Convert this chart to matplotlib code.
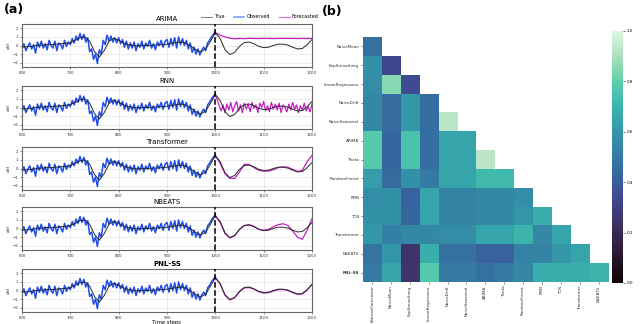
import numpy as np
import matplotlib
matplotlib.use("Agg")
import matplotlib.pyplot as plt
import seaborn as sns

# ---------------- data: time series ----------------
t_true = list(range(600, 1201, 10))
y_true = [-0.2, -0.15, -0.1, 0.0, 0.05, 0.1, 0.1, 0.15, 0.2, 0.25,
          0.35, 0.6, 0.9, 1.0, 0.5, -0.7, -1.35, -0.6, 0.5, 0.85,
          0.6, 0.3, 0.1, 0.0, -0.05, 0.0, 0.0, 0.05, 0.05, 0.1,
          0.15, 0.25, 0.35, 0.4, 0.25, -0.1, -0.5, -0.75, -0.4, 0.5,
          1.5, 0.8, -0.5, -1.05, -0.8, -0.1, 0.35, 0.4, 0.2, -0.1,
          -0.25, -0.2, 0.0, 0.15, 0.15, 0.05, -0.2, -0.4, -0.35, 0.1,
          0.7]

t_obs = list(range(600, 1001, 4))
y_obs = [-0.3, 0.2, -0.6, -0.1, 0.3, -0.4, 0.1, -0.9, 0.4, -0.2,
         0.5, -0.3, 0.2, -0.5, 0.6, 0.0, -0.3, 0.5, -0.6, 0.3,
         0.1, -0.4, 0.6, -0.1, 0.4,
         0.1, 0.8, 0.3, 1.1, 0.6, 1.4, 0.7, 1.3, 0.4, 0.9,
         -0.7, -0.4, -1.6, -1.0, -2.1, -0.5, -1.0, 0.6, 0.1, 1.2,
         0.5, 1.1, 0.4, 0.9, 0.3,
         0.9, 0.2, 0.7, -0.2, 0.5, -0.4, 0.3, -0.3, 0.4, -0.6,
         0.2, -0.2, 0.5, -0.4, 0.3, -0.1, 0.6, -0.3, 0.2, -0.5,
         0.4, 0.0, 0.6, -0.2, 0.5,
         0.7, -0.2, 0.8, 0.0, 0.9, -0.3, 1.0, 0.1, 0.8, 0.0,
         0.6, -0.4, 0.3, -0.8, -0.2, -1.0, -0.4, -1.1, -0.5, -0.2,
         -0.6, 0.3, 0.6, 1.0, 1.3,
         1.6]

t_fc = list(range(1000, 1201, 10))
t_fc_rnn = list(range(1000, 1201, 4))

fc_arima = [1.5, 1.2, 1.0, 0.85, 0.78, 0.82, 0.8, 0.83, 0.82, 0.81,
            0.83, 0.82, 0.81, 0.82, 0.83, 0.82, 0.82, 0.81, 0.82, 0.82, 0.82]
fc_rnn = [1.5, 0.9, 0.2, -0.4, 0.3, -0.6, 0.4, -0.3, 0.6, -0.5,
          0.2, 0.7, -0.4, 0.3, -0.6, 0.5, -0.2, 0.4, -0.5, 0.6,
          -0.1, 0.3, -0.6, 0.5, 0.0, 0.7, -0.4, 0.2, -0.5, 0.6,
          -0.2, 0.4, -0.3, 0.5, -0.6, 0.3, 0.0, -0.5, 0.4, -0.3,
          0.6, -0.2, 0.3, -0.6, 0.2, -0.3, 0.5, -0.4, 0.1, -0.5, 0.4]
fc_transformer = [1.5, 0.6, -0.6, -1.15, -1.15, -0.4, 0.5, 0.45, 0.1, -0.2,
                  -0.3, -0.3, -0.15, 0.1, 0.2, 0.15, -0.1, -0.35, -0.2, 0.8, 1.5]
fc_nbeats = [1.5, 0.7, -0.6, -1.1, -0.85, -0.1, 0.35, 0.45, 0.25, -0.1,
             -0.2, -0.1, 0.2, 0.45, 0.55, 0.35, -0.3, -1.0, -1.25, -0.2, 1.15]
fc_pnlss = [1.5, 0.75, -0.55, -1.1, -0.85, -0.15, 0.3, 0.35, 0.15, -0.15,
            -0.3, -0.25, -0.05, 0.1, 0.12, 0.0, -0.25, -0.45, -0.4, 0.05, 0.7]

panel_titles = ["ARIMA", "RNN", "Transformer", "NBEATS", "PNL-SS"]
panel_fc = [(t_fc, fc_arima), (t_fc_rnn, fc_rnn), (t_fc, fc_transformer),
            (t_fc, fc_nbeats), (t_fc, fc_pnlss)]

# ---------------- data: similarity heatmap (lower triangle) ----------------
row_labels = ["NaiveMean", "ExpSmoothing", "LinearRegression", "NaiveDrift",
              "NaiveSeasonal", "ARIMA", "Theta", "RandomForest", "RNN", "TCN",
              "Transformer", "NBEATS", "PNL-SS"]
col_labels = ["KalmanForecaster", "NaiveMean", "ExpSmoothing", "LinearRegression",
              "NaiveDrift", "NaiveSeasonal", "ARIMA", "Theta", "RandomForest",
              "RNN", "TCN", "Transformer", "NBEATS"]
heat_rows = [
    [0.47],
    [0.58, 0.33],
    [0.57, 0.85, 0.34],
    [0.55, 0.45, 0.60, 0.46],
    [0.55, 0.45, 0.60, 0.46, 0.93],
    [0.78, 0.43, 0.75, 0.46, 0.65, 0.65],
    [0.78, 0.43, 0.75, 0.46, 0.65, 0.65, 0.93],
    [0.62, 0.45, 0.58, 0.50, 0.65, 0.65, 0.72, 0.72],
    [0.57, 0.58, 0.42, 0.65, 0.53, 0.53, 0.55, 0.55, 0.57],
    [0.58, 0.58, 0.43, 0.65, 0.53, 0.53, 0.55, 0.55, 0.60, 0.68],
    [0.60, 0.52, 0.55, 0.55, 0.57, 0.57, 0.65, 0.65, 0.70, 0.55, 0.65],
    [0.48, 0.60, 0.25, 0.68, 0.47, 0.47, 0.42, 0.42, 0.53, 0.53, 0.60, 0.65],
    [0.50, 0.65, 0.25, 0.78, 0.50, 0.50, 0.47, 0.50, 0.55, 0.68, 0.68, 0.68, 0.70],
]

# ---------------- figure ----------------
fig = plt.figure(figsize=(6.4, 3.24), dpi=100)

c_true = "#2a2a2a"
c_obs = "#1f4de8"
c_fc = "#c21fc2"

tops = [24, 86, 147, 207, 269]
ax_h = 43
for i, (title, (tf, yf)) in enumerate(zip(panel_titles, panel_fc)):
    ax = fig.add_axes([22 / 640, 1 - (tops[i] + ax_h) / 324, 290 / 640, ax_h / 324])
    ax.grid(True, color="#e4e4e4", lw=0.5)
    ax.set_axisbelow(True)
    l_obs, = ax.plot(t_obs, y_obs, color=c_obs, lw=1.1, zorder=2)
    l_true, = ax.plot(t_true, y_true, color=c_true, lw=0.7, zorder=3)
    l_fc, = ax.plot(tf, yf, color=c_fc, lw=0.9, zorder=2)
    ax.axvline(1000, color="black", ls="--", lw=1.1, zorder=4)
    ax.set_xlim(600, 1200)
    ax.set_ylim(-2.5, 2.5)
    ax.set_xticks([600, 700, 800, 900, 1000, 1100, 1200])
    ax.set_yticks([-2, -1, 0, 1, 2])
    ax.tick_params(labelsize=2.8, length=1.2, width=0.4, pad=1.5, colors="#333333")
    ax.set_ylabel("x(t)", fontsize=3, labelpad=1)
    bold = "bold" if title == "PNL-SS" else "normal"
    ax.set_title(title, fontsize=5, pad=2, fontweight=bold)
    for s in ax.spines.values():
        s.set_color("#666666")
        s.set_linewidth(0.8)
    if i == 0:
        leg = fig.legend([l_true, l_obs, l_fc], ["True", "Observed", "Forecasted"],
                         loc="center", bbox_to_anchor=(260 / 640, 1 - 17 / 324),
                         ncol=3, frameon=False, fontsize=3.5, handlelength=2.2,
                         columnspacing=1.8, handletextpad=0.5)
        for h in leg.legend_handles:
            h.set_alpha(0.6)
    if i == 4:
        ax.set_xlabel("Time steps", fontsize=3.8, labelpad=0.5)

fig.text(4 / 640, 1 - 10 / 324, "(a)", fontsize=9, fontweight="bold", va="center")
fig.text(322 / 640, 1 - 12 / 324, "(b)", fontsize=9, fontweight="bold", va="center")

# heatmap
n = len(row_labels)
mat = np.full((n, n), np.nan)
for r, vals in enumerate(heat_rows):
    mat[r, :len(vals)] = vals

cmap = sns.color_palette("mako", as_cmap=True)
hax = fig.add_axes([362.7 / 640, 1 - 282 / 324, 245.3 / 640, 245 / 324])
im = hax.imshow(np.ma.masked_invalid(mat), cmap=cmap, vmin=0, vmax=1,
                aspect="auto", interpolation="nearest")
hax.set_xticks(range(n))
hax.set_xticklabels(col_labels, rotation=90, fontsize=3)
hax.set_yticks(range(n))
hax.set_yticklabels(row_labels, fontsize=3)
for lab in hax.get_yticklabels():
    if lab.get_text() == "PNL-SS":
        lab.set_fontweight("bold")
hax.tick_params(length=1.5, width=0.4, pad=1, colors="#333333")
for s in hax.spines.values():
    s.set_visible(False)

cax = fig.add_axes([611.7 / 640, 1 - 283 / 324, 11.3 / 640, 252 / 324])
cb = fig.colorbar(im, cax=cax)
cb.set_ticks([0.0, 0.2, 0.4, 0.6, 0.8, 1.0])
cb.ax.tick_params(labelsize=3, length=1.5, width=0.4, pad=1)
cb.outline.set_visible(False)

plt.savefig("out.png", dpi=100)
